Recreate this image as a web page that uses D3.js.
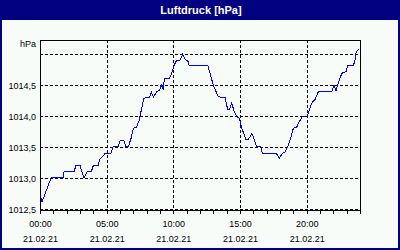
<!DOCTYPE html>
<html>
<head>
<meta charset="utf-8">
<title>Luftdruck</title>
<script src="https://cdnjs.cloudflare.com/ajax/libs/d3/7.8.5/d3.min.js"></script>
<style>
  body { margin: 0; background: #fff; }
  svg { display: block; }
  .lbl { font-family: "Liberation Sans", Arial, sans-serif; font-size: 9px; fill: #000; }
  .title { font-family: "Liberation Sans", Arial, sans-serif; font-size: 11px; font-weight: bold; fill: #fff; }
  .grid { stroke: #000; stroke-dasharray: 3,2; shape-rendering: crispEdges; }
  .frame { stroke: #000; fill: none; shape-rendering: crispEdges; }
  .pline { fill: none; stroke: #0000ff; stroke-width: 1; shape-rendering: crispEdges; }
</style>
</head>
<body>
<svg width="400" height="250"></svg>
<script>
// data: hour of day and pressure in hPa
var hours = [0.08, 0.15, 0.83, 1.73, 1.8, 2.55, 2.7, 3.0, 3.3, 3.53, 3.85, 4.0, 4.35, 4.5, 4.73, 4.88,
  5.33, 5.48, 5.85, 6.0, 6.3, 6.45, 6.62, 6.83, 7.0, 7.25, 7.45, 7.63, 7.8, 8.2, 8.35, 8.5, 8.75,
  8.95, 9.13, 9.25, 9.32, 9.7, 9.88, 10.07, 10.25, 10.5, 10.7, 10.88, 11.12, 11.18, 12.58, 12.75,
  13.0, 13.37, 13.88, 14.08, 14.2, 14.38, 14.57, 14.75, 14.95, 15.17, 15.45, 15.62, 15.88, 16.0,
  16.25, 16.58, 16.67, 17.7, 17.95, 18.2, 18.38, 18.62, 18.8, 19.0, 19.25, 19.45, 19.67, 20.05,
  20.2, 20.38, 20.63, 20.87, 21.88, 22.05, 22.2, 22.37, 22.63, 22.95, 23.08, 23.5, 23.63, 23.7, 23.87];
var pressure = [1012.67, 1012.61, 1013.0, 1013.0, 1013.1, 1013.1, 1013.2, 1013.2, 1013.0, 1013.1, 1013.1,
  1013.2, 1013.2, 1013.3, 1013.35, 1013.4, 1013.4, 1013.5, 1013.5, 1013.6, 1013.6, 1013.5, 1013.5,
  1013.64, 1013.8, 1013.82, 1013.94, 1014.13, 1014.29, 1014.3, 1014.39, 1014.31, 1014.39, 1014.42,
  1014.5, 1014.42, 1014.6, 1014.6, 1014.7, 1014.83, 1014.9, 1014.9, 1015.0, 1014.92, 1014.88,
  1014.82, 1014.82, 1014.69, 1014.5, 1014.31, 1014.3, 1014.1, 1014.1, 1014.21, 1014.07, 1014.0,
  1013.96, 1013.78, 1013.62, 1013.62, 1013.71, 1013.67, 1013.5, 1013.5, 1013.4, 1013.4, 1013.32,
  1013.4, 1013.42, 1013.52, 1013.64, 1013.8, 1013.82, 1013.91, 1013.99, 1013.99, 1014.1, 1014.21,
  1014.27, 1014.39, 1014.39, 1014.5, 1014.41, 1014.53, 1014.69, 1014.72, 1014.81, 1014.81, 1014.91,
  1015.02, 1015.08];

var yTicks = [1012.5, 1013.0, 1013.5, 1014.0, 1014.5, 1015.0];
var yLabels = ["1012,5", "1013,0", "1013,5", "1014,0", "1014,5", ""];
var xTicks = [0, 5, 10, 15, 20];
var xLabels = ["00:00", "05:00", "10:00", "15:00", "20:00"];
var dateLabel = "21.02.21";

var svg = d3.select("svg");

// navy frame + title bar
svg.append("rect").attr("width", 400).attr("height", 250).attr("fill", "#000080");
svg.append("rect").attr("x", 2).attr("y", 20).attr("width", 396).attr("height", 228).attr("fill", "#f8fcf8");
svg.append("text").attr("class", "title").attr("x", 201).attr("y", 13.5)
  .attr("text-anchor", "middle").text("Luftdruck [hPa]");

var x = d3.scaleLinear().domain([0, 24]).range([40, 360]);
var y = d3.scaleLinear().domain([1012.48, 1015.23]).range([210, 40]);

// grid
svg.selectAll(".hg").data(yTicks).enter().append("line")
  .attr("class", "grid")
  .attr("x1", 40).attr("x2", 360)
  .attr("y1", function(d) { return Math.round(y(d)) + 0.5; })
  .attr("y2", function(d) { return Math.round(y(d)) + 0.5; });
svg.selectAll(".vg").data(xTicks.slice(1)).enter().append("line")
  .attr("class", "grid")
  .attr("y1", 40).attr("y2", 210)
  .attr("x1", function(d) { return Math.round(x(d)) + 0.5; })
  .attr("x2", function(d) { return Math.round(x(d)) + 0.5; });

// hourly ticks under the axis
svg.selectAll(".tk").data(d3.range(0, 25)).enter().append("line")
  .attr("class", "frame")
  .attr("y1", 210).attr("y2", 213.5)
  .attr("x1", function(d) { return Math.round(x(d)) + 0.5; })
  .attr("x2", function(d) { return Math.round(x(d)) + 0.5; });

// plot box
svg.append("rect").attr("class", "frame")
  .attr("x", 40.5).attr("y", 40.5).attr("width", 320).attr("height", 170);

// labels
svg.selectAll(".yl").data(yTicks).enter().append("text")
  .attr("class", "lbl").attr("text-anchor", "end")
  .attr("x", 36).attr("y", function(d) { return Math.round(y(d)) + 4; })
  .text(function(d, i) { return yLabels[i]; });
svg.append("text").attr("class", "lbl").attr("text-anchor", "end")
  .attr("x", 36).attr("y", 47).text("hPa");

svg.selectAll(".xl").data(xTicks).enter().append("text")
  .attr("class", "lbl").attr("text-anchor", "middle")
  .attr("x", function(d) { return x(d) + 0.5; }).attr("y", 227)
  .text(function(d, i) { return xLabels[i]; });
svg.selectAll(".xd").data(xTicks).enter().append("text")
  .attr("class", "lbl").attr("text-anchor", "middle")
  .attr("x", function(d) { return x(d) + 0.5; }).attr("y", 242)
  .text(dateLabel);

// pressure line
var line = d3.line()
  .x(function(d, i) { return x(hours[i]); })
  .y(function(d) { return y(d); });
svg.append("path").datum(pressure).attr("class", "pline").attr("d", line);
</script>
</body>
</html>
